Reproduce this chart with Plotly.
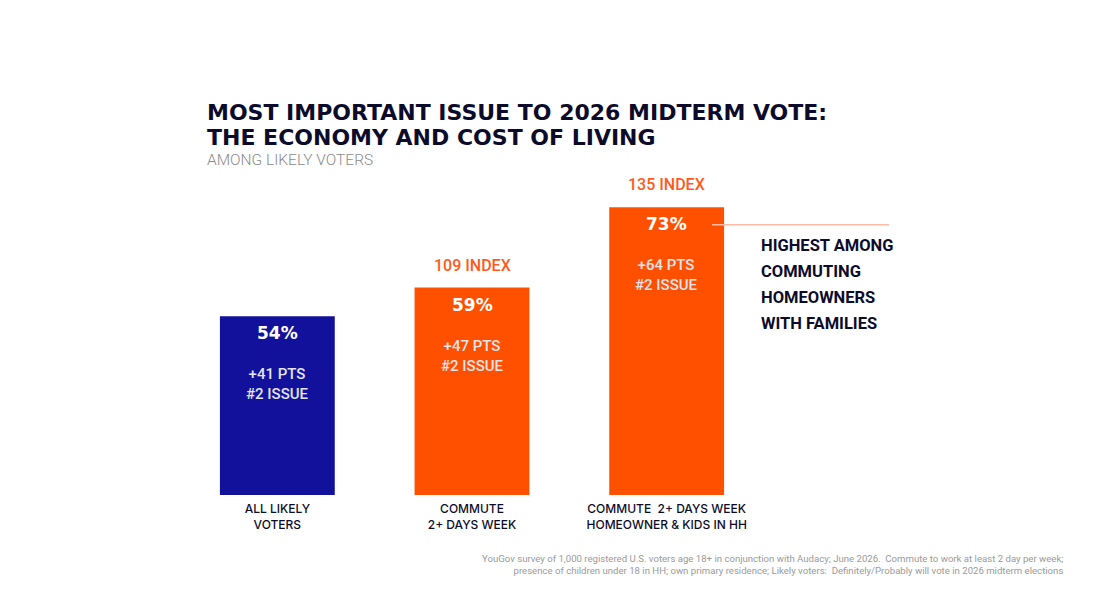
import plotly.graph_objects as go

categories = ["ALL LIKELY<br>VOTERS", "COMMUTE<br>2+ DAYS WEEK", "COMMUTE  2+ DAYS WEEK<br>HOMEOWNER & KIDS IN HH"]
shares = [54, 59, 73]
index_labels = ["", "109 INDEX", "135 INDEX"]
gap_labels = ["+41 PTS<br>#2 ISSUE", "+47 PTS<br>#2 ISSUE", "+64 PTS<br>#2 ISSUE"]
bar_colors = ["#11119c", "#ff5000", "#ff5000"]
callout_lines = ["HIGHEST AMONG", "COMMUTING", "HOMEOWNERS", "WITH FAMILIES"]
title_lines = ["MOST IMPORTANT ISSUE TO 2026 MIDTERM VOTE:", "THE ECONOMY AND COST OF LIVING"]

NAVY = "#0c0c2a"
ORANGE = "#ff5a1a"
narrow = "Roboto, sans-serif"

fig = go.Figure()
fig.add_trace(go.Bar(
    x=categories,
    y=shares,
    marker=dict(color=bar_colors, line=dict(width=0)),
    hoverinfo="skip",
))

# value + gap text inside bars, index text above bars
for cat, v, idx, gap in zip(categories, shares, index_labels, gap_labels):
    fig.add_annotation(x=cat, y=v, text="<b>%d%%</b>" % v, showarrow=False,
                       yanchor="top", yshift=-5,
                       font=dict(family="DejaVu Sans, sans-serif", size=17, color="white"))
    fig.add_annotation(x=cat, y=v, text=gap, showarrow=False,
                       yanchor="top", yshift=-47,
                       font=dict(family=narrow, size=15, color="#e4e4ea", weight=500))
    if idx:
        fig.add_annotation(x=cat, y=v, text=idx, showarrow=False,
                           yanchor="bottom", yshift=11,
                           font=dict(family=narrow, size=16, color=ORANGE, weight=500))

# callout
fig.add_shape(type="line", xref="paper", yref="paper",
              x0=0.911, x1=1.214, y0=0.783, y1=0.783,
              line=dict(color="#f9bca6", width=1.5))
for i, line in enumerate(callout_lines):
    fig.add_annotation(xref="paper", yref="paper", x=0.991, y=0.722 - i * 0.0745,
                       xanchor="left", yanchor="middle", showarrow=False,
                       text="<b>%s</b>" % line,
                       font=dict(family=narrow, size=16.5, color=NAVY, weight=900))

# titles
for i, line in enumerate(title_lines):
    fig.add_annotation(xref="paper", yref="paper", x=0.043, y=1.110 - i * 0.0725,
                       xanchor="left", yanchor="middle", showarrow=False,
                       text="<b>%s</b>" % line,
                       font=dict(family="DejaVu Sans, sans-serif", size=22, color=NAVY))
fig.add_annotation(xref="paper", yref="paper", x=0.043, y=1.004,
                   xanchor="left", yanchor="top", align="left", showarrow=False,
                   text="AMONG LIKELY VOTERS",
                   font=dict(family=narrow, size=15.5, color="#8a8a8a", weight=300))

# footnote
fig.add_annotation(xref="paper", yref="paper", x=1.515, y=-0.162,
                   xanchor="right", yanchor="top", align="right", showarrow=False,
                   text="YouGov survey of 1,000 registered U.S. voters age 18+ in conjunction with Audacy; June 2026.  Commute to work at least 2 day per week;<br>"
                        "presence of children under 18 in HH; own primary residence; Likely voters:  Definitely/Probably will vote in 2026 midterm elections",
                   font=dict(family="Roboto, sans-serif", size=9.6, color="#9a9a9a"))

fig.update_layout(
    width=1102, height=605,
    margin=dict(l=172, r=346, t=142, b=118),
    paper_bgcolor="white", plot_bgcolor="white",
    bargap=0.41,
    showlegend=False,
    xaxis=dict(showgrid=False, showline=False, ticks="", zeroline=False,
               ticklabelstandoff=5,
               tickfont=dict(family="Inter, sans-serif", size=12, color=NAVY, weight=500)),
    yaxis=dict(range=[22.8, 83.0], visible=False, showgrid=False),
)

fig.write_html("out.html")
